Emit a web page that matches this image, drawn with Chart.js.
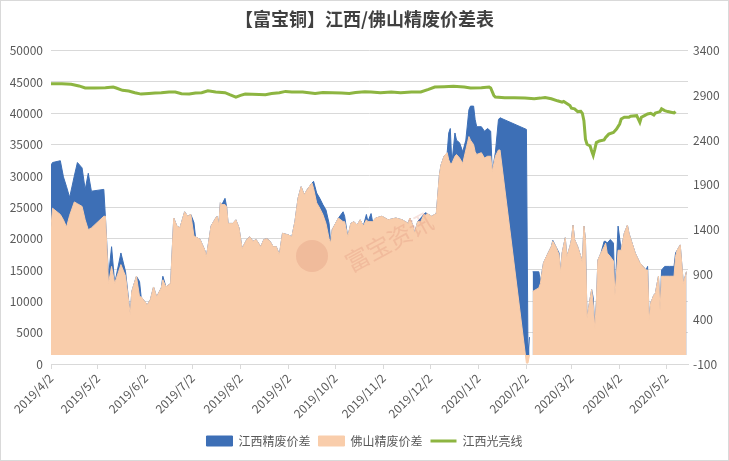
<!DOCTYPE html>
<html>
<head>
<meta charset="utf-8">
<script src="https://cdn.jsdelivr.net/npm/chart.js@4.4.0/dist/chart.umd.min.js"></script>
<style>
  html, body { margin: 0; padding: 0; background: #fff; }
  #wrap { width: 729px; height: 461px; }
</style>
</head>
<body>
<div id="wrap"><canvas id="spreadChart" width="729" height="461"></canvas></div>
<script>
// 价差日期（两条面积共用）
const spreadDates = [
  '2019/4/2','2019/4/3','2019/4/8','2019/4/10','2019/4/12','2019/4/14','2019/4/17','2019/4/19','2019/4/22','2019/4/24',
  '2019/4/26','2019/4/28','2019/5/6','2019/5/7','2019/5/9','2019/5/11','2019/5/13','2019/5/17','2019/5/20','2019/5/23',
  '2019/5/24','2019/5/27','2019/5/29','2019/5/30','2019/6/3','2019/6/5','2019/6/7','2019/6/9','2019/6/12','2019/6/13',
  '2019/6/15','2019/6/18','2019/6/20','2019/6/22','2019/6/24','2019/6/27','2019/6/29','2019/7/1','2019/7/3','2019/7/4',
  '2019/7/7','2019/7/10','2019/7/11','2019/7/13','2019/7/14','2019/7/17','2019/7/18','2019/7/19','2019/7/20','2019/7/21',
  '2019/7/23','2019/7/24','2019/7/25','2019/7/28','2019/7/30','2019/8/1','2019/8/3','2019/8/6','2019/8/8','2019/8/10',
  '2019/8/12','2019/8/15','2019/8/17','2019/8/19','2019/8/21','2019/8/23','2019/8/25','2019/8/27','2019/8/29','2019/9/2',
  '2019/9/4','2019/9/6','2019/9/8','2019/9/10','2019/9/12','2019/9/14','2019/9/17','2019/9/18','2019/9/20','2019/9/22',
  '2019/9/24','2019/9/26','2019/9/28','2019/9/29','2019/9/30','2019/10/4','2019/10/7','2019/10/8','2019/10/10','2019/10/12',
  '2019/10/14','2019/10/16','2019/10/18','2019/10/20','2019/10/22','2019/10/23','2019/10/25','2019/10/26','2019/10/28','2019/11/1',
  '2019/11/5','2019/11/10','2019/11/14','2019/11/18','2019/11/19','2019/11/21','2019/11/22','2019/11/24','2019/11/26','2019/11/28',
  '2019/11/29','2019/11/30','2019/12/3','2019/12/6','2019/12/8','2019/12/9','2019/12/11','2019/12/13','2019/12/14','2019/12/15',
  '2019/12/16','2019/12/18','2019/12/19','2019/12/21','2019/12/23','2019/12/25','2019/12/27','2019/12/28','2019/12/30','2019/12/31',
  '2020/1/1','2020/1/4','2020/1/6','2020/1/8','2020/1/10','2020/1/11','2020/1/13','2020/1/15','2020/1/16','2020/2/2',
  '2020/2/3','2020/2/4','2020/2/5','2020/2/6','2020/2/10','2020/2/11','2020/2/13','2020/2/16','2020/2/18','2020/2/19',
  '2020/2/21','2020/2/23','2020/2/24','2020/2/25','2020/2/27','2020/2/28','2020/3/1','2020/3/2','2020/3/3','2020/3/4',
  '2020/3/6','2020/3/8','2020/3/9','2020/3/10','2020/3/11','2020/3/12','2020/3/14','2020/3/15','2020/3/16','2020/3/17',
  '2020/3/18','2020/3/19','2020/3/21','2020/3/23','2020/3/24','2020/3/25','2020/3/27','2020/3/29','2020/3/30','2020/4/1',
  '2020/4/3','2020/4/5','2020/4/7','2020/4/8','2020/4/10','2020/4/12','2020/4/15','2020/4/17','2020/4/19','2020/4/20',
  '2020/4/21','2020/4/22','2020/4/24','2020/4/25','2020/4/27','2020/4/28','2020/4/29','2020/5/1','2020/5/4','2020/5/7',
  '2020/5/8','2020/5/9','2020/5/11','2020/5/13','2020/5/15'
];
const jiangxiSpread = [
  2120,2150,2170,1990,1880,1760,2000,2150,2090,1850,
  2030,1830,1850,1550,880,1210,800,1140,930,450,
  710,880,820,650,560,620,760,650,750,880,
  760,800,1530,1440,1420,1600,1550,1570,1480,1320,
  1290,1170,1100,1320,1440,1530,1550,1450,1700,1680,
  1750,1660,1470,1470,1510,1420,1190,1290,1320,1270,
  1290,1210,1290,1300,1270,1210,1210,1120,1360,1340,
  1320,1490,1750,1880,1790,1850,1920,1940,1810,1750,
  1680,1620,1470,1250,1400,1530,1600,1550,1320,1470,
  1490,1450,1510,1440,1570,1490,1580,1490,1530,1550,
  1510,1530,1510,1470,1530,1440,1360,1490,1530,1570,
  1590,1580,1550,1580,2010,2120,2220,2260,2480,2530,
  2140,2480,2400,2370,2270,2400,2740,2780,2780,2630,
  2550,2550,2500,2530,2500,2050,2260,2630,2650,2520,
  20,200,null,930,930,820,1030,1140,1210,1280,
  1210,1140,920,1140,1310,1100,1210,1290,1450,1290,
  1210,1100,1030,1440,1290,410,630,730,640,300,
  580,1060,1140,1270,1270,1250,1290,1250,670,1440,
  1170,1360,1450,1360,1250,1140,1030,990,950,990,
  390,580,670,690,880,500,950,990,990,990,
  1140,1170,1230,800,930
];
const foshanSpread = [
  1430,1640,1570,1510,1430,1560,1710,1690,1660,1510,
  1400,1420,1550,1550,800,990,800,1010,880,450,
  710,880,650,650,560,620,760,650,750,840,
  760,800,1530,1440,1420,1600,1550,1570,1330,1320,
  1290,1170,1100,1320,1440,1530,1550,1450,1700,1680,
  1680,1660,1470,1470,1510,1420,1190,1290,1320,1270,
  1290,1210,1290,1300,1270,1210,1210,1120,1360,1340,
  1320,1490,1750,1880,1790,1850,1920,1860,1700,1640,
  1570,1470,1300,1250,1400,1530,1490,1490,1320,1470,
  1490,1450,1510,1440,1510,1490,1490,1490,1530,1550,
  1510,1530,1510,1470,1530,1440,1360,1490,1490,1570,
  1560,1580,1550,1580,2010,2120,2220,2260,2180,2140,
  2140,2220,2240,2200,2140,2290,2440,2400,2350,2270,
  2240,2260,2200,2220,2220,2050,2220,2290,2290,-90,
  -90,0,null,710,750,800,1030,1140,1210,1270,
  1210,1120,920,1140,1310,1100,1210,1290,1450,1290,
  1210,1100,1030,1440,1290,410,630,730,560,300,
  580,1060,1140,1210,1250,1140,1100,1050,670,1170,
  1170,1360,1450,1360,1250,1140,1030,990,950,950,
  390,580,670,690,880,500,880,880,880,880,
  1100,1170,1230,800,930
];

// 江西光亮线
const brightDates = [
  '2019/4/2','2019/4/9','2019/4/15','2019/4/20','2019/4/24','2019/4/30','2019/5/7','2019/5/12','2019/5/14','2019/5/18',
  '2019/5/22','2019/5/26','2019/5/30','2019/6/4','2019/6/8','2019/6/12','2019/6/17','2019/6/21','2019/6/25','2019/6/30',
  '2019/7/4','2019/7/8','2019/7/12','2019/7/17','2019/7/23','2019/7/26','2019/7/30','2019/8/2','2019/8/5','2019/8/14',
  '2019/8/18','2019/8/22','2019/8/27','2019/8/31','2019/9/4','2019/9/11','2019/9/15','2019/9/19','2019/9/24','2019/9/30',
  '2019/10/6','2019/10/11','2019/10/15','2019/10/21','2019/10/25','2019/10/31','2019/11/7','2019/11/13','2019/11/20','2019/11/26',
  '2019/12/1','2019/12/5','2019/12/11','2019/12/17','2019/12/24','2019/12/28','2020/1/4','2020/1/9','2020/1/10','2020/1/12',
  '2020/1/13','2020/1/19','2020/1/25','2020/2/1','2020/2/7','2020/2/11','2020/2/14','2020/2/18','2020/2/22','2020/2/25',
  '2020/2/26','2020/3/1','2020/3/2','2020/3/4','2020/3/6','2020/3/8','2020/3/9','2020/3/10','2020/3/11','2020/3/12',
  '2020/3/14','2020/3/15','2020/3/16','2020/3/17','2020/3/18','2020/3/20','2020/3/23','2020/3/24','2020/3/26','2020/3/29',
  '2020/3/31','2020/4/2','2020/4/3','2020/4/5','2020/4/8','2020/4/9','2020/4/13','2020/4/15','2020/4/16','2020/4/18',
  '2020/4/20','2020/4/22','2020/4/24','2020/4/25','2020/4/28','2020/4/29','2020/5/1','2020/5/3','2020/5/5','2020/5/7',
  '2020/5/8'
];
const jiangxiBright = [
  44730,44730,44620,44360,44030,44030,44090,44190,44030,43660,
  43550,43280,43060,43170,43230,43280,43390,43390,43120,43060,
  43230,43280,43600,43390,43280,42960,42580,42850,43060,43010,
  42960,43170,43280,43490,43390,43390,43280,43170,43330,43280,
  43230,43170,43330,43440,43390,43280,43390,43280,43390,43390,
  43820,44190,44250,44300,44190,44030,44090,44190,44030,42850,
  42580,42470,42470,42420,42310,42420,42530,42310,41990,41770,
  41880,41240,40810,40700,40270,40320,40000,38820,35860,35050,
  34790,33980,33280,34250,35320,35590,35750,36130,36670,36940,
  37470,38280,39090,39360,39360,39520,39620,38550,39360,39620,
  39890,40000,39730,40050,40270,40700,40430,40270,40160,40050,
  40270
];

const tickLabels = ['2019/4/2','2019/5/2','2019/6/2','2019/7/2','2019/8/2','2019/9/2','2019/10/2',
  '2019/11/2','2019/12/2','2020/1/2','2020/2/2','2020/3/2','2020/4/2','2020/5/2'];

// days since 2019/4/2
function dayIndex(s) {
  const p = s.split('/').map(Number);
  return (Date.UTC(p[0], p[1] - 1, p[2]) - Date.UTC(2019, 3, 2)) / 86400000;
}
const tickDays = tickLabels.map(dayIndex);

function toPoints(dates, values) {
  return dates.map((d, i) => ({ x: dayIndex(d), y: values[i] }));
}

Chart.defaults.font.family = "'Noto Sans CJK SC', sans-serif";
Chart.defaults.font.size = 12;
Chart.defaults.color = '#595959';

const background = {
  id: 'background',
  beforeDraw(chart) {
    const c = chart.ctx;
    c.save();
    c.fillStyle = '#fff';
    c.fillRect(0, 0, chart.width, chart.height);
    c.strokeStyle = '#d9d9d9';
    c.lineWidth = 1;
    c.strokeRect(0.5, 0.5, chart.width - 1, chart.height - 1);
    c.restore();
  }
};

// faint watermark in the middle of the plot
const watermark = {
  id: 'watermark',
  afterDatasetsDraw(chart) {
    const c = chart.ctx;
    c.save();
    c.fillStyle = 'rgba(205, 115, 95, 0.2)';
    c.beginPath();
    c.arc(312, 256, 16, 0, Math.PI * 2);
    c.fill();
    c.translate(389, 242);
    c.rotate(-0.5);
    c.font = "24px 'Noto Sans CJK SC'";
    c.textAlign = 'center';
    c.textBaseline = 'middle';
    c.fillStyle = 'rgba(215, 125, 105, 0.22)';
    c.fillText('富宝资讯', 0, 0);
    c.restore();
  }
};

new Chart(document.getElementById('spreadChart'), {
  type: 'line',
  data: {
    datasets: [
      {
        label: '江西精废价差',
        data: toPoints(spreadDates, jiangxiSpread),
        yAxisID: 'y1',
        backgroundColor: '#3d6fb6',
        borderColor: '#3d6fb6',
        borderWidth: 1,
        fill: 'origin',
        pointRadius: 0,
        pointStyle: 'rect',
        order: 2
      },
      {
        label: '佛山精废价差',
        data: toPoints(spreadDates, foshanSpread),
        yAxisID: 'y1',
        backgroundColor: '#f9cdab',
        borderColor: '#f9cdab',
        borderWidth: 1,
        fill: 'origin',
        pointRadius: 0,
        pointStyle: 'rect',
        order: 1
      },
      {
        label: '江西光亮线',
        data: toPoints(brightDates, jiangxiBright),
        yAxisID: 'y',
        borderColor: '#8db541',
        backgroundColor: '#8db541',
        borderWidth: 3,
        fill: false,
        pointRadius: 0,
        pointStyle: 'line',
        order: 0
      }
    ]
  },
  options: {
    responsive: false,
    animation: false,
    layout: { padding: { left: 0, right: 0, top: 0, bottom: 4 } },
    plugins: {
      tooltip: { enabled: false },
      title: {
        display: true,
        text: '【富宝铜】江西/佛山精废价差表',
        color: '#404040',
        font: { size: 18, weight: 'bold' },
        padding: { top: 8, bottom: 21 }
      },
      legend: {
        position: 'bottom',
        labels: {
          usePointStyle: true,
          pointStyleWidth: 26,
          boxHeight: 10,
          padding: 8,
          color: '#595959',
          sort: (a, b) => a.datasetIndex - b.datasetIndex
        }
      }
    },
    scales: {
      x: {
        type: 'linear',
        min: 0,
        max: 410,
        afterBuildTicks: s => { s.ticks = tickDays.map(v => ({ value: v })); },
        afterFit: s => { s.height = 63; },
        ticks: {
          callback: (v, i) => tickLabels[i],
          minRotation: 45,
          maxRotation: 45,
          autoSkip: false,
          padding: 2
        },
        grid: { drawOnChartArea: false, tickLength: 5, color: '#d9d9d9' },
        border: { color: '#d9d9d9' }
      },
      y: {
        position: 'left',
        min: 0,
        max: 50000,
        afterFit: s => { s.width = 51; },
        ticks: { stepSize: 5000, padding: 8, callback: v => String(v) },
        grid: { color: '#d9d9d9', drawTicks: false },
        border: { display: false }
      },
      y1: {
        position: 'right',
        min: -100,
        max: 3400,
        afterFit: s => { s.width = 41; },
        ticks: { stepSize: 500, padding: 5, callback: v => String(v) },
        grid: { display: false, drawTicks: false },
        border: { display: false }
      }
    }
  },
  plugins: [background, watermark]
});
</script>
</body>
</html>
